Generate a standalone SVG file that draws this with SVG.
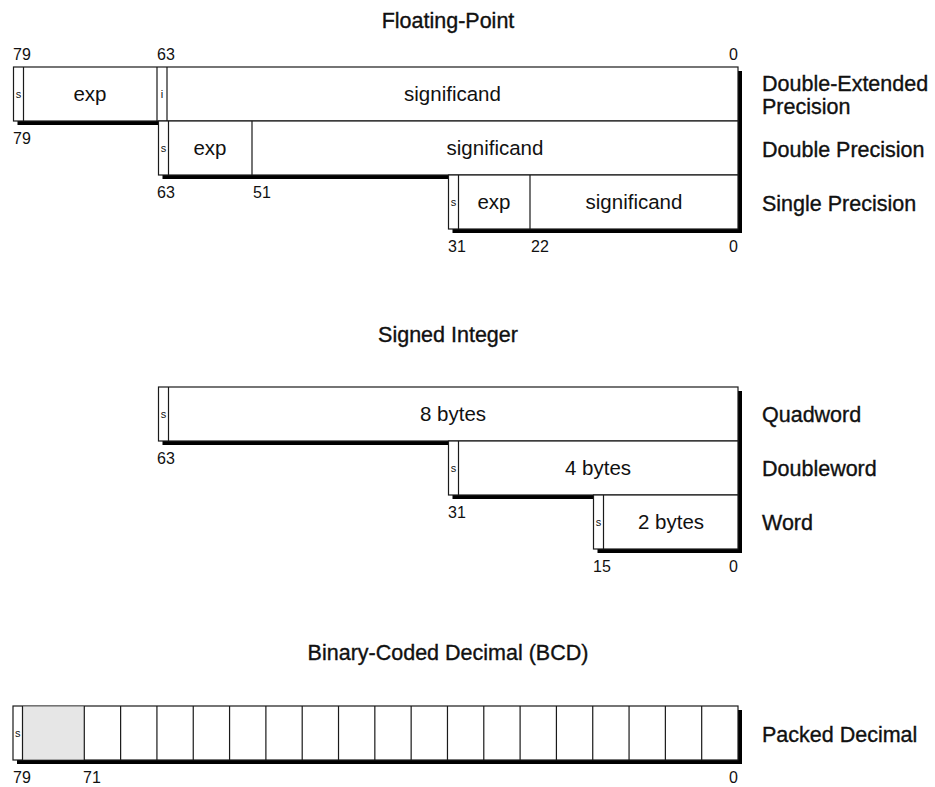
<svg xmlns="http://www.w3.org/2000/svg" width="935" height="787" viewBox="0 0 935 787">
<style>
.box{fill:#fff;stroke:#1a1a1a;stroke-width:1.2}
.sh{fill:#000}
.dv{stroke:#1a1a1a;stroke-width:1.2;fill:none}
text{font-family:"Liberation Sans",Arial,sans-serif;fill:#111}
.t{font-size:21.5px;text-anchor:middle;stroke:#111;stroke-width:0.35}
.lb{font-size:21.5px;stroke:#111;stroke-width:0.35}
.f{font-size:20.5px;text-anchor:middle}
.n{font-size:16px}
.e{text-anchor:end}
.s{font-size:11px;text-anchor:middle}
</style>
<rect width="935" height="787" fill="#fff"/>

<g id="floating-point">
<text class="t" x="448" y="28">Floating-Point</text>
<rect class="sh" x="17.5" y="71" width="724.5" height="54"/>
<rect class="sh" x="162.5" y="125" width="579.5" height="54"/>
<rect class="sh" x="452.5" y="179" width="289.5" height="54"/>
<g id="fp-double-extended">
<rect class="box" x="13.5" y="67" width="724.5" height="54"/>
<path class="dv" d="M23.5 67V121M157 67V121M167 67V121"/>
<text class="s" x="18.5" y="98">s</text>
<text class="f" x="90" y="101">exp</text>
<text class="s" x="162" y="98">i</text>
<text class="f" x="452.5" y="101">significand</text>
</g>
<g id="fp-double">
<rect class="box" x="158.5" y="121" width="579.5" height="54"/>
<path class="dv" d="M168.5 121V175M252 121V175"/>
<text class="s" x="163.5" y="152">s</text>
<text class="f" x="210" y="155">exp</text>
<text class="f" x="495" y="155">significand</text>
</g>
<g id="fp-single">
<rect class="box" x="448.5" y="175" width="289.5" height="54"/>
<path class="dv" d="M458.5 175V229M530 175V229"/>
<text class="s" x="453.5" y="206">s</text>
<text class="f" x="494" y="209">exp</text>
<text class="f" x="634" y="209">significand</text>
</g>
<g id="fp-bits">
<text class="n" x="13" y="60">79</text>
<text class="n" x="157" y="60">63</text>
<text class="n e" x="738" y="60">0</text>
<text class="n" x="13" y="144">79</text>
<text class="n" x="157" y="198">63</text>
<text class="n" x="253" y="198">51</text>
<text class="n" x="448" y="252">31</text>
<text class="n" x="531" y="252">22</text>
<text class="n e" x="738" y="252">0</text>
</g>
<g id="fp-labels">
<text class="lb" x="762" y="91">Double-Extended</text>
<text class="lb" x="762" y="114">Precision</text>
<text class="lb" x="762" y="157">Double Precision</text>
<text class="lb" x="762" y="211">Single Precision</text>
</g>
</g>

<g id="signed-integer">
<text class="t" x="448" y="342">Signed Integer</text>
<rect class="sh" x="162.5" y="391" width="579.5" height="54"/>
<rect class="sh" x="452.5" y="445" width="289.5" height="54"/>
<rect class="sh" x="597.5" y="499" width="144.5" height="54"/>
<g id="int-quadword">
<rect class="box" x="158.5" y="387" width="579.5" height="54"/>
<path class="dv" d="M168.5 387V441"/>
<text class="s" x="163.5" y="418">s</text>
<text class="f" x="453" y="421">8 bytes</text>
</g>
<g id="int-doubleword">
<rect class="box" x="448.5" y="441" width="289.5" height="54"/>
<path class="dv" d="M458.5 441V495"/>
<text class="s" x="453.5" y="472">s</text>
<text class="f" x="598" y="475">4 bytes</text>
</g>
<g id="int-word">
<rect class="box" x="593.5" y="495" width="144.5" height="54"/>
<path class="dv" d="M603.5 495V549"/>
<text class="s" x="598.5" y="526">s</text>
<text class="f" x="671" y="529">2 bytes</text>
</g>
<g id="int-bits">
<text class="n" x="157" y="464">63</text>
<text class="n" x="448" y="518">31</text>
<text class="n" x="593" y="572">15</text>
<text class="n e" x="738" y="572">0</text>
</g>
<g id="int-labels">
<text class="lb" x="762" y="422">Quadword</text>
<text class="lb" x="762" y="476">Doubleword</text>
<text class="lb" x="762" y="530">Word</text>
</g>
</g>

<g id="bcd">
<text class="t" x="448" y="660">Binary-Coded Decimal (BCD)</text>
<rect class="sh" x="17" y="710" width="725" height="54"/>
<g id="bcd-packed">
<rect class="box" x="13" y="706" width="725" height="54"/>
<rect x="22.5" y="706.6" width="61.8" height="52.8" fill="#e6e6e6"/>
<path class="dv" d="M22.5 706V760M84.3 706V760M120.62 706V760M156.93 706V760M193.25 706V760M229.57 706V760M265.89 706V760M302.2 706V760M338.52 706V760M374.84 706V760M411.15 706V760M447.47 706V760M483.79 706V760M520.1 706V760M556.42 706V760M592.74 706V760M629.06 706V760M665.37 706V760M701.69 706V760"/>
<text class="s" x="17.75" y="737">s</text>
</g>
<g id="bcd-bits">
<text class="n" x="13" y="783">79</text>
<text class="n" x="83" y="783">71</text>
<text class="n e" x="738" y="783">0</text>
</g>
<text class="lb" x="762" y="742">Packed Decimal</text>
</g>
</svg>
